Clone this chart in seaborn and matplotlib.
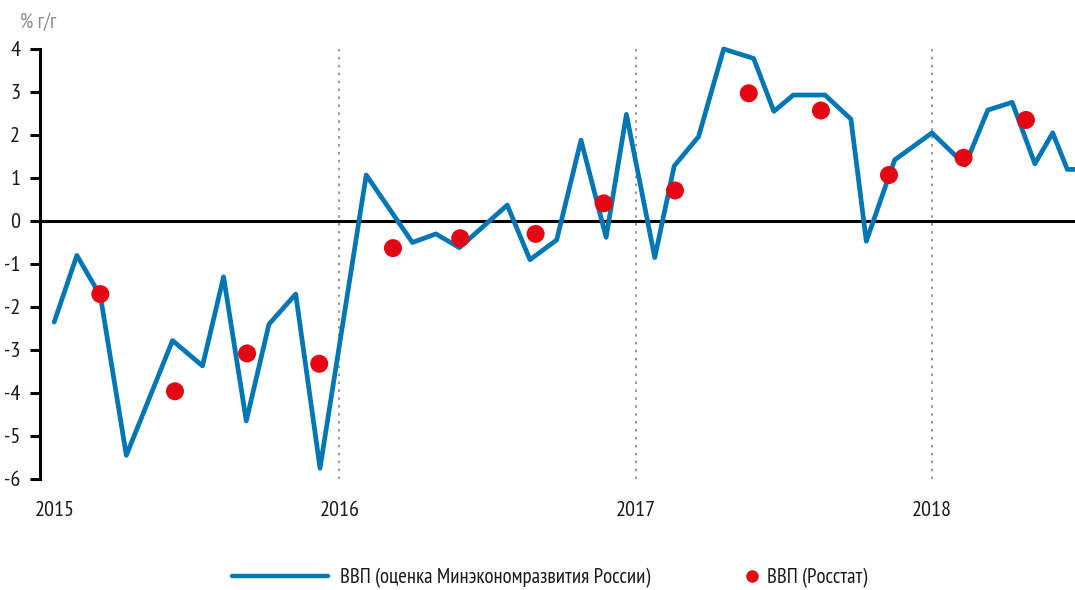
import matplotlib
matplotlib.use("Agg")
import matplotlib.pyplot as plt
from matplotlib.lines import Line2D
from matplotlib.transforms import ScaledTranslation
import pandas as pd
import seaborn as sns

# Monthly GDP estimate (Ministry of Economic Development), % y/y
line_dates = [
    "2015-01-14", "2015-02-11", "2015-03-12", "2015-04-13", "2015-06-09",
    "2015-07-16", "2015-08-11", "2015-09-08", "2015-10-06", "2015-11-08",
    "2015-12-08", "2016-02-03", "2016-03-31", "2016-04-29", "2016-05-28",
    "2016-07-26", "2016-08-23", "2016-09-25", "2016-10-25", "2016-11-25",
    "2016-12-20", "2017-01-24", "2017-02-17", "2017-03-19", "2017-04-19",
    "2017-05-26", "2017-06-20", "2017-07-14", "2017-08-22", "2017-09-23",
    "2017-10-12", "2017-11-16", "2018-01-01", "2018-02-11", "2018-03-11",
    "2018-04-10", "2018-05-08", "2018-05-30", "2018-06-17", "2018-06-28",
]
line_values = [
    -2.35, -0.80, -1.74, -5.45, -2.78,
    -3.37, -1.30, -4.65, -2.40, -1.70,
    -5.75, 1.07, -0.50, -0.30, -0.62,
    0.37, -0.90, -0.44, 1.88, -0.38,
    2.48, -0.85, 1.28, 1.96, 4.00,
    3.78, 2.55, 2.93, 2.93, 2.37,
    -0.47, 1.42, 2.05, 1.30, 2.58,
    2.76, 1.33, 2.05, 1.20, 1.20,
]

# Quarterly GDP (Rosstat), % y/y
rosstat_dates = [
    "2015-03-12", "2015-06-12", "2015-09-09", "2015-12-07",
    "2016-03-07", "2016-05-29", "2016-08-30", "2016-11-22",
    "2017-02-18", "2017-05-20", "2017-08-17", "2017-11-09",
    "2018-02-09", "2018-04-27",
]
rosstat_values = [
    -1.70, -3.96, -3.08, -3.32,
    -0.63, -0.40, -0.30, 0.41,
    0.71, 2.97, 2.57, 1.07,
    1.47, 2.35,
]

years = [2015, 2016, 2017, 2018]
y_ticks = list(range(-6, 5))

label_line = "ВВП (оценка Минэкономразвития России)"
label_dots = "ВВП (Росстат)"
unit_label = "% г/г"

BLUE = "#0077B4"
RED = "#E30613"

df_line = pd.DataFrame({"date": pd.to_datetime(line_dates), "value": line_values})
df_dots = pd.DataFrame({"date": pd.to_datetime(rosstat_dates), "value": rosstat_values})

sns.set_theme(style="white")
plt.rcParams["font.family"] = ["PT Sans Narrow", "DejaVu Sans"]

W, H = 1075, 590
fig = plt.figure(figsize=(W / 100, H / 100), dpi=100)
ax = fig.add_axes([40 / W, 1 - 479 / H, 1 - 40 / W, (479 - 49) / H])

sns.lineplot(data=df_line, x="date", y="value", color=BLUE, lw=3.4,
             estimator=None, sort=False, legend=False, ax=ax, zorder=3)
for ln in ax.get_lines():
    ln.set_clip_on(False)
sns.scatterplot(data=df_dots, x="date", y="value", color=RED, s=168,
                edgecolor="none", linewidth=0, legend=False, ax=ax, zorder=4)

base = pd.Timestamp("2016-01-01")
ax.set_xlim(base - pd.Timedelta(days=369.5), base + pd.Timedelta(days=907.5))
ax.set_ylim(-6, 4)

# zero line and year separators
ax.axhline(0, color="black", lw=2.2, zorder=2)
for y in years[1:]:
    ax.axvline(pd.Timestamp(f"{y}-01-01"), ymin=0, ymax=1.012, color="#9a9a9a",
               lw=1.5, ls=(0, (1.2, 2.6)), clip_on=False, zorder=1)

for side in ["top", "right", "bottom"]:
    ax.spines[side].set_visible(False)
ax.spines["left"].set_color("black")
ax.spines["left"].set_linewidth(2.2)

ax.set_yticks(y_ticks)
ax.set_yticklabels([str(v) for v in y_ticks])
ax.tick_params(axis="y", left=True, length=7.2, width=2.2, color="black",
               pad=7, labelsize=16, labelcolor="#1a1a1a")

ax.set_xticks([pd.Timestamp(f"{y}-01-01") for y in years])
ax.set_xticklabels([str(y) for y in years])
ax.tick_params(axis="x", bottom=False, length=0, pad=16, labelsize=16,
               labelcolor="#1a1a1a")
first = ax.get_xticklabels()[0]
first.set_transform(first.get_transform() + ScaledTranslation(0.11, 0, fig.dpi_scale_trans))

ax.set_xlabel("")
ax.set_ylabel("")
ax.grid(False)

fig.text(20 / W, 1 - 22 / H, unit_label, color="#8c8c8c", fontsize=15,
         ha="left", va="center")

h_line = Line2D([], [], color=BLUE, lw=3.2)
leg1 = fig.legend([h_line], [label_line], loc="center left",
                  bbox_to_anchor=(232 / W, 12 / H), frameon=False, fontsize=15,
                  handlelength=4.6, handletextpad=0.6, borderpad=0,
                  borderaxespad=0)
h_dot = Line2D([], [], ls="none", marker="o", color=RED, markersize=9,
               markeredgewidth=0)
leg2 = fig.legend([h_dot], [label_dots], loc="center left",
                  bbox_to_anchor=(742 / W, 12 / H), frameon=False, fontsize=15,
                  handlelength=1.0, handletextpad=0.2, borderpad=0,
                  borderaxespad=0)
for leg in (leg1, leg2):
    for t in leg.get_texts():
        t.set_color("#1a1a1a")

fig.savefig("out.png", dpi=100)
